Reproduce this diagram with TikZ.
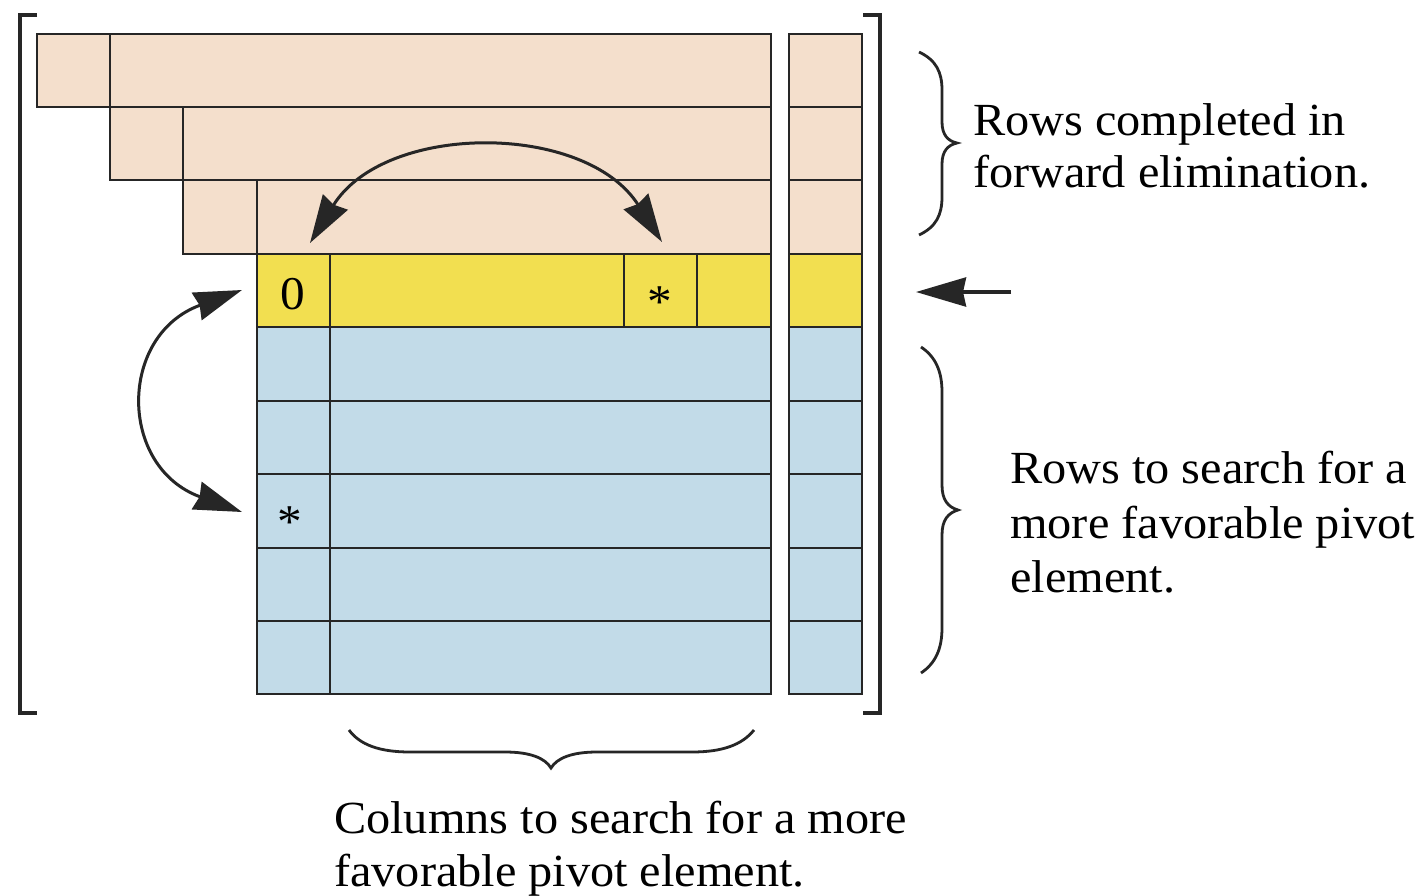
\documentclass[tikz,border=0pt]{standalone}
\usepackage{fontspec}
\setmainfont{Liberation Serif}[FakeStretch=1.05]
\usetikzlibrary{arrows.meta}
\definecolor{peachc}{HTML}{F4DFCC}
\definecolor{yellowc}{HTML}{F2DF50}
\definecolor{bluec}{HTML}{C2DBE8}
\definecolor{linec}{HTML}{262626}
\tikzset{
  gridline/.style={draw=linec, line width=2.6pt},
  bracketline/.style={draw=linec, line width=3.4pt},
  braceline/.style={draw=linec, line width=2.8pt},
  swaparrow/.style={draw=linec, line width=3pt, {Stealth[length=48pt,width=29pt,inset=3pt]}-{Stealth[length=48pt,width=29pt,inset=3pt]}},
  onearrow/.style={draw=linec, line width=3.6pt, -{Stealth[length=50pt,width=29pt,inset=3pt]}},
  lbl/.style={anchor=base west, inner sep=0pt, font=\fontsize{46}{53}\selectfont},
  celltext/.style={anchor=base, inner sep=0pt, font=\fontsize{47}{53}\selectfont}
}
\begin{document}
\begin{tikzpicture}[x=1pt,y=-1pt]
\useasboundingbox[fill=white] (0,0) rectangle (1425,895);
% forward-eliminated rows
\fill[peachc] (37,34) rectangle (771,107);
\fill[peachc] (110,107) rectangle (771,180);
\fill[peachc] (183,180) rectangle (771,254);
\fill[yellowc] (257,254) rectangle (771,327);
\fill[bluec] (257,327) rectangle (771,694);
% right column
\fill[peachc] (789,34) rectangle (862,254);
\fill[yellowc] (789,254) rectangle (862,327);
\fill[bluec] (789,327) rectangle (862,694);
% grid lines, main block
\draw[gridline] (37,34) rectangle (771,107);
\draw[gridline] (110,34) -- (110,107);
\draw[gridline] (110,107) rectangle (771,180);
\draw[gridline] (183,107) -- (183,180);
\draw[gridline] (183,180) rectangle (771,254);
\draw[gridline] (257,180) -- (257,254);
\draw[gridline] (257,254) rectangle (771,694);
\draw[gridline] (330,254) -- (330,694);
\foreach \yy in {327,401,474,548,621} \draw[gridline] (257,\yy) -- (771,\yy);
\draw[gridline] (624,254) rectangle (697,327);
% grid lines, right column
\draw[gridline] (789,34) rectangle (862,694);
\foreach \yy in {107,180,254,327,401,474,548,621} \draw[gridline] (789,\yy) -- (862,\yy);
% matrix brackets
\draw[bracketline] (37,15) -- (20,15) -- (20,713) -- (37,713);
\draw[bracketline] (863,15) -- (880,15) -- (880,713) -- (863,713);
% cell texts
\node[celltext] (zero) at (293,309) {0};
\node[celltext] (starrow) at (660,317) {*};
\node[celltext] (starcol) at (290,537) {*};
% swap arrows
\coordinate (a1) at (310,243);
\coordinate (a2) at (662,242);
\coordinate (b1) at (242,290);
\coordinate (b2) at (242,512);
\coordinate (c1) at (1011,292);
\coordinate (c2) at (916,292);
\draw[swaparrow] (a1) .. controls (385,122) and (585,122) .. (a2);
\draw[swaparrow] (b1) .. controls (118,335) and (118,467) .. (b2);
\draw[onearrow] (c1) -- (c2);
% braces
\draw[braceline] (919,52) .. controls (936,60) and (942,72) .. (942,90) -- (942,122)
  .. controls (942,135) and (948,141) .. (957,143)
  .. controls (948,145) and (942,151) .. (942,164) -- (942,197)
  .. controls (942,215) and (936,227) .. (919,235);
\draw[braceline] (921,347) .. controls (936,357) and (942,372) .. (942,392) -- (942,485)
  .. controls (942,500) and (948,507) .. (958,510)
  .. controls (948,513) and (942,520) .. (942,535) -- (942,628)
  .. controls (942,648) and (936,663) .. (921,673);
\draw[braceline] (349,730) .. controls (360,745) and (380,752) .. (410,752) -- (505,752)
  .. controls (530,752) and (545,758) .. (551,768)
  .. controls (557,758) and (572,752) .. (597,752) -- (692,752)
  .. controls (722,752) and (742,745) .. (754,730);
% labels
\node[lbl] (t1a) at (973,135) {Rows completed in};
\node[lbl] (t1b) at (973,187) {forward elimination.};
\node[lbl] (t2a) at (1010,483) {Rows to search for a};
\node[lbl] (t2b) at (1010,538) {more favorable pivot};
\node[lbl] (t2c) at (1010,592) {element.};
\node[lbl] (t3a) at (334,833) {Columns to search for a more};
\node[lbl] (t3b) at (334,886) {favorable pivot element.};
\end{tikzpicture}
\end{document}
